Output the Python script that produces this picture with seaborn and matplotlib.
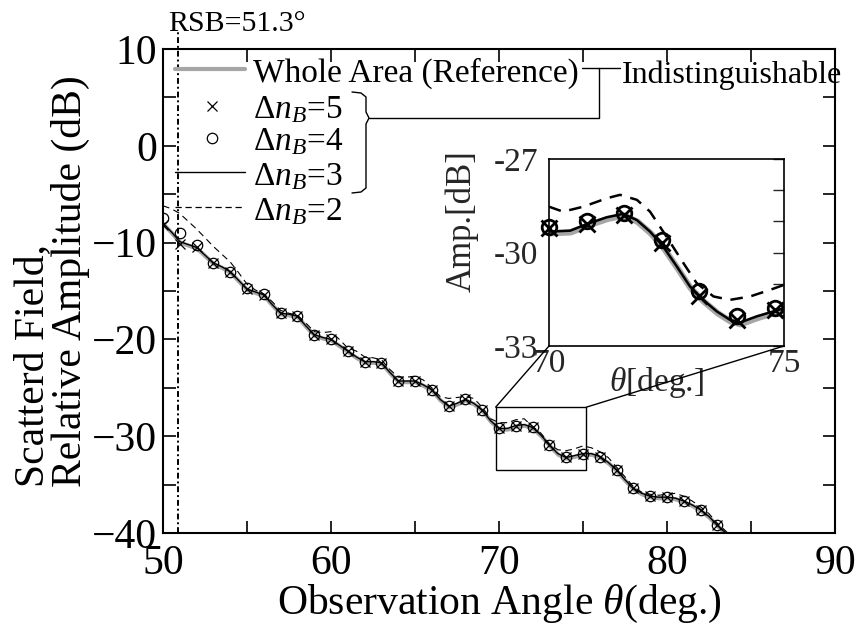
import numpy as np
import pandas as pd
import matplotlib
matplotlib.use("Agg")
import matplotlib.pyplot as plt
import matplotlib.transforms as mtransforms
from matplotlib.lines import Line2D
from matplotlib.patches import Rectangle, ConnectionPatch
import seaborn as sns

# ---------------- data ----------------
theta_line = [50, 50.5, 51, 51.5, 52, 52.5, 53, 53.5, 54, 54.5, 55, 55.5, 56, 56.5,
              57, 57.5, 58, 58.5, 59, 59.5, 60, 60.5, 61, 61.5, 62, 62.5, 63, 63.5,
              64, 64.5, 65, 65.5, 66, 66.5, 67, 67.5, 68, 68.5, 69, 69.5, 70, 70.5,
              71, 71.5, 72, 72.5, 73, 73.5, 74, 74.5, 75, 75.5, 76, 76.5, 77, 77.5,
              78, 78.5, 79, 79.5, 80, 80.5, 81, 81.5, 82, 82.5, 83, 83.5, 84]
ref_db = [-8.0, -8.9, -9.9, -10.2, -10.5, -11.3, -12.1, -12.5, -13.0, -13.9, -14.8, -15.1,
          -15.4, -16.4, -17.3, -17.4, -17.6, -18.6, -19.5, -19.8, -20.0, -20.6, -21.2, -21.8,
          -22.3, -22.3, -22.4, -23.4, -24.3, -24.3, -24.3, -24.7, -25.2, -26.2, -26.9, -26.6,
          -26.2, -26.6, -27.3, -28.4, -29.2, -29.2, -28.9, -28.8, -29.1, -29.9, -30.9, -31.8,
          -32.2, -32.0, -31.8, -31.8, -32.1, -32.7, -33.5, -34.5, -35.4, -35.9, -36.2, -36.3,
          -36.3, -36.4, -36.7, -37.1, -37.6, -38.3, -39.2, -40.0, -40.8]
n3_db = ref_db  # indistinguishable from the reference
n2_db = [-6.2, -6.5, -7.0, -7.8, -8.6, -9.5, -10.4, -11.2, -12.0, -13.1, -14.3, -14.9,
         -15.3, -16.1, -17.0, -17.3, -17.5, -18.3, -19.2, -19.3, -19.2, -20.0, -20.9, -21.2,
         -21.8, -21.9, -22.1, -23.1, -23.9, -23.9, -23.8, -24.2, -25.0, -25.9, -26.1, -26.0,
         -25.9, -26.1, -27.0, -28.2, -28.6, -28.6, -28.3, -28.2, -29.0, -29.7, -30.8, -31.4,
         -31.5, -31.3, -31.0, -31.2, -31.6, -32.2, -33.2, -34.2, -35.2, -35.8, -36.0, -36.1,
         -36.0, -35.9, -36.2, -36.7, -37.3, -38.0, -39.0, -39.8, -40.7]

theta_pts = [50, 51, 52, 53, 54, 55, 56, 57, 58, 59, 60, 61, 62, 63, 64, 65, 66,
             67, 68, 69, 70, 71, 72, 73, 74, 75, 76, 77, 78, 79, 80, 81, 82, 83]
n5_db = [-8.2, -10.1, -10.5, -12.1, -13.0, -14.8, -15.4, -17.3, -17.6, -19.5, -20.0, -21.2,
         -22.3, -22.4, -24.3, -24.3, -25.2, -26.9, -26.2, -27.3, -29.2, -28.9, -29.1, -30.9,
         -32.2, -31.8, -32.1, -33.5, -35.4, -36.2, -36.3, -36.7, -37.6, -39.2]
n4_db = [-7.5, -9.0, -10.2, -12.1, -13.0, -14.7, -15.3, -17.3, -17.6, -19.5, -20.0, -21.2,
         -22.3, -22.4, -24.3, -24.3, -25.2, -26.9, -26.2, -27.3, -29.2, -28.9, -29.1, -30.9,
         -32.2, -31.8, -32.1, -33.5, -35.4, -36.2, -36.3, -36.7, -37.6, -39.2]

rsb_label = "RSB=51.3°"
rsb_line_theta = 50.9

zoom_theta = [69.8, 75.2]
zoom_db = [-33.5, -27.0]

inset_theta_line = [70.0, 70.45, 70.82, 71.23, 71.58, 71.87, 72.15, 72.43, 72.72, 73.0,
                    73.28, 73.57, 73.85, 74.06, 74.42, 75.0]
inset_n3_db = [-29.33, -29.30, -29.08, -28.87, -28.76, -28.96, -29.33, -29.81, -30.45,
               -31.09, -31.52, -31.89, -32.16, -32.25, -32.05, -31.79]
inset_ref_db = inset_n3_db
inset_n2_theta = [70.0, 70.30, 70.73, 71.23, 71.51, 71.87, 72.15, 72.5, 72.86, 73.14,
                  73.5, 73.85, 74.28, 74.7, 75.0]
inset_n2_db = [-28.53, -28.69, -28.53, -28.26, -28.15, -28.31, -28.69, -29.49, -30.34,
               -30.98, -31.41, -31.52, -31.41, -31.2, -31.04]
inset_pts_theta = [70.0, 70.8, 71.6, 72.4, 73.2, 74.0, 74.8]
inset_n4_db = [-29.19, -28.99, -28.72, -29.60, -31.25, -32.03, -31.79]
inset_n5_db = [-29.22, -29.08, -28.80, -29.68, -31.41, -32.16, -31.86]

x_ticks = [50, 60, 70, 80, 90]
y_ticks = [10, 0, -10, -20, -30, -40]
inset_y_ticks = [-27, -30, -33]
inset_y_ticklabels = ["-27", "-30", "-33"]
inset_x_ticks = [70, 75]

legend_labels = ["Whole Area (Reference)", r"$\Delta n_B$=5", r"$\Delta n_B$=4",
                 r"$\Delta n_B$=3", r"$\Delta n_B$=2"]
note_label = "Indistinguishable"

# ---------------- style ----------------
sns.set_theme(style="ticks")
plt.rcParams["font.family"] = ["Liberation Serif", "DejaVu Serif"]
plt.rcParams["mathtext.fontset"] = "custom"
plt.rcParams["mathtext.rm"] = "Liberation Serif"
plt.rcParams["mathtext.it"] = "Liberation Serif:italic"
plt.rcParams["mathtext.bf"] = "Liberation Serif:bold"
plt.rcParams["axes.unicode_minus"] = True

GRAY = "#a6a6a6"
W, H = 857, 635

fig = plt.figure(figsize=(W / 100, H / 100), dpi=100)
fig.patch.set_facecolor("white")


def fx(x):
    return x / W


def fy(y):
    return 1 - y / H


ax = fig.add_axes([fx(163), fy(533), fx(835) - fx(163), fy(49) - fy(533)])
ax.set_facecolor("white")

main_lines = pd.DataFrame({"theta": theta_line, "ref": ref_db, "n3": n3_db, "n2": n2_db})
main_pts = pd.DataFrame({"theta": theta_pts, "n5": n5_db, "n4": n4_db})

shadow = ax.transData + mtransforms.ScaledTranslation(0.4 / 72, -0.8 / 72, fig.dpi_scale_trans)
sns.lineplot(data=main_lines, x="theta", y="ref", ax=ax, color=GRAY, lw=3.0,
             sort=False, estimator=None, transform=shadow, zorder=2)
sns.lineplot(data=main_lines, x="theta", y="n2", ax=ax, color="black", lw=0.8,
             sort=False, estimator=None, linestyle=(0, (6, 4)), zorder=3)
sns.lineplot(data=main_lines, x="theta", y="n3", ax=ax, color="black", lw=1.0,
             sort=False, estimator=None, zorder=4)
ax.plot(main_pts["theta"], main_pts["n5"], ls="none", marker="x", ms=7, mew=0.9,
        color="black", zorder=5)
ax.plot(main_pts["theta"], main_pts["n4"], ls="none", marker="o", ms=7.5, mew=0.9,
        mfc="none", mec="black", zorder=5)

# RSB vertical dash-dot line
ax.plot([rsb_line_theta, rsb_line_theta], [-40, 12.0], color="black", lw=1.4,
        linestyle=(0, (3, 1.5, 1, 1.5)), clip_on=False, zorder=6)

ax.set_xlim(50, 90)
ax.set_ylim(-40, 10)
ax.set_xticks(x_ticks)
ax.set_yticks(y_ticks)
ax.set_xticks([55, 65, 75, 85], minor=True)
ax.set_yticks([5, -5, -15, -25, -35], minor=True)
ax.tick_params(which="both", direction="in", top=True, right=True, length=9,
               width=1.2, color="black", labelsize=30, labelcolor="black")
ax.tick_params(axis="x", pad=8)
ax.tick_params(axis="y", pad=4)
for s in ax.spines.values():
    s.set_linewidth(1.5)
    s.set_color("black")
ax.set_xlabel(r"Observation Angle $\theta$(deg.)", fontsize=30, color="black", labelpad=0)
ax.set_ylabel("")
fig.text(fx(52), fy(281), "Scatterd Field,\nRelative Amplitude (dB)", rotation=90,
         ha="center", va="center", multialignment="left", fontsize=30,
         linespacing=0.95, color="black")

# zoom box
ax.add_patch(Rectangle((zoom_theta[0], zoom_db[0]), zoom_theta[1] - zoom_theta[0],
                       zoom_db[1] - zoom_db[0], fill=False, ec="black", lw=1.0, zorder=6))

# RSB text
fig.text(fx(168), fy(31), rsb_label, fontsize=21.5, va="baseline", ha="left", color="black")

# ---------------- legend (hand built) ----------------
lx0, lx1, tx = 175, 245, 253
rows_y = [69, 106, 138, 172, 207]
base_y = [82, 118, 150, 185, 220]
fig.add_artist(Line2D([fx(lx0), fx(lx1)], [fy(rows_y[0])] * 2, color=GRAY, lw=3.0))
fig.add_artist(Line2D([fx(211.7)], [fy(rows_y[1])], ls="none", marker="x", ms=7,
                      mew=0.9, color="black"))
fig.add_artist(Line2D([fx(211.7)], [fy(rows_y[2])], ls="none", marker="o", ms=7.5,
                      mew=0.9, mfc="none", mec="black"))
fig.add_artist(Line2D([fx(lx0), fx(lx1)], [fy(rows_y[3])] * 2, color="black", lw=1.0))
fig.add_artist(Line2D([fx(lx0), fx(lx1)], [fy(rows_y[4])] * 2, color="black", lw=0.9,
                      linestyle=(0, (5, 3))))
for lab, by in zip(legend_labels, base_y):
    fig.text(fx(tx), fy(by), lab, fontsize=24, va="baseline", ha="left", color="black")

# bracket + connectors
br = [(352, 92), (361, 93), (366, 97), (366, 112), (369, 118), (366, 124),
      (366, 188), (361, 192), (352, 193)]
fig.add_artist(Line2D([fx(p[0]) for p in br], [fy(p[1]) for p in br], color="black", lw=1.0))
conn = [(369, 118), (599, 118), (599, 68)]
fig.add_artist(Line2D([fx(p[0]) for p in conn], [fy(p[1]) for p in conn], color="black", lw=1.0))
fig.add_artist(Line2D([fx(582), fx(620)], [fy(68)] * 2, color="black", lw=1.0))
fig.text(fx(622), fy(83), note_label, fontsize=23, va="baseline", ha="left", color="black")

# ---------------- inset ----------------
axi = fig.add_axes([fx(549), fy(346), fx(784) - fx(549), fy(159) - fy(346)])
axi.set_facecolor("white")
in_line = pd.DataFrame({"theta": inset_theta_line, "ref": inset_ref_db, "n3": inset_n3_db})
in_n2 = pd.DataFrame({"theta": inset_n2_theta, "n2": inset_n2_db})
in_pts = pd.DataFrame({"theta": inset_pts_theta, "n5": inset_n5_db, "n4": inset_n4_db})
shadow_i = axi.transData + mtransforms.ScaledTranslation(0.5 / 72, -1.2 / 72, fig.dpi_scale_trans)
sns.lineplot(data=in_line, x="theta", y="ref", ax=axi, color=GRAY, lw=4.5, sort=False,
             estimator=None, transform=shadow_i, zorder=2)
sns.lineplot(data=in_n2, x="theta", y="n2", ax=axi, color="black", lw=1.8, sort=False,
             estimator=None, linestyle=(0, (5, 3.5)), zorder=3)
sns.lineplot(data=in_line, x="theta", y="n3", ax=axi, color="black", lw=1.8, sort=False,
             estimator=None, zorder=4)
axi.plot(in_pts["theta"], in_pts["n5"], ls="none", marker="x", ms=11, mew=2.0,
         color="black", zorder=5, clip_on=False)
axi.plot(in_pts["theta"], in_pts["n4"], ls="none", marker="o", ms=10.5, mew=2.0,
         mfc="none", mec="black", zorder=5, clip_on=False)
axi.set_xlim(70, 75)
axi.set_ylim(-33, -27)
axi.set_yticks(inset_y_ticks)
axi.set_yticklabels(inset_y_ticklabels)
axi.set_xticks(inset_x_ticks)
axi.set_yticks([-28, -29, -31, -32], minor=True)
axi.tick_params(axis="y", which="both", direction="in", left=False, right=True,
                length=8, width=1.0, labelsize=24, pad=8)
axi.tick_params(axis="x", which="both", direction="in", length=0, labelsize=24, pad=2)
for s in axi.spines.values():
    s.set_linewidth(1.2)
    s.set_color("black")
axi.set_xlabel(r"$\theta$[deg.]", fontsize=24)
axi.xaxis.set_label_coords(0.455, -0.10)
axi.set_ylabel("Amp.[dB]", fontsize=25)
axi.yaxis.set_label_coords(-0.30, 0.666)

# connectors from zoom box to inset
for xm, xi in [(zoom_theta[0], 70), (zoom_theta[1], 75)]:
    cp = ConnectionPatch(xyA=(xm, zoom_db[1]), coordsA=ax.transData,
                         xyB=(xi, -33), coordsB=axi.transData, color="black", lw=1.0)
    fig.add_artist(cp)

fig.savefig("out.png", dpi=100, facecolor="white")
